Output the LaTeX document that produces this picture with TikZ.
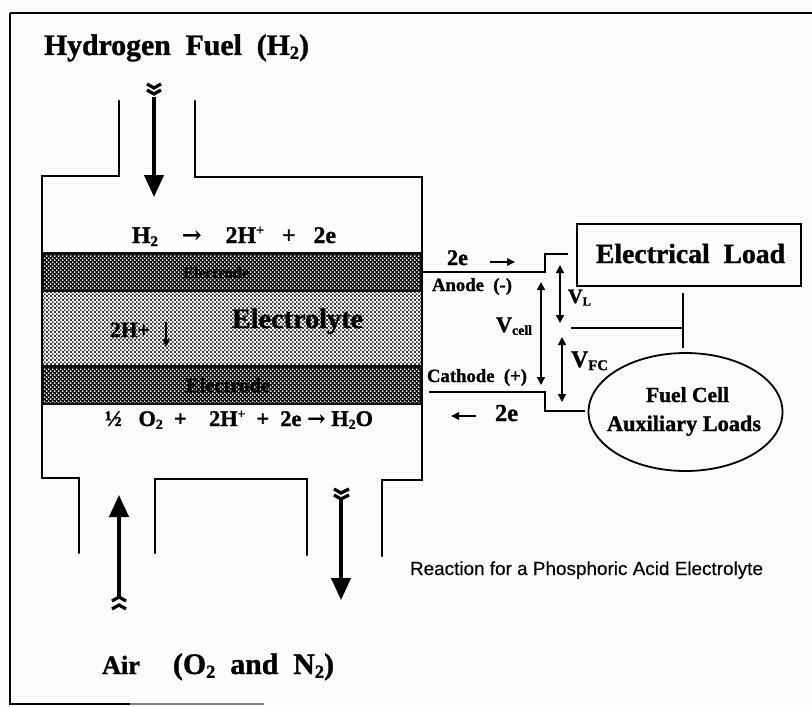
\documentclass[tikz,border=0pt]{standalone}
\usepackage{fontspec}
\setmainfont{Liberation Serif}[BoldFeatures={FakeBold=1.2}]
\newfontfamily\arialf{Liberation Sans}[FakeBold=0.3]
\newfontfamily\dejaarrow{DejaVu Serif Bold}
\usetikzlibrary{arrows.meta,patterns,shapes.geometric}
\newdimen\pxu \pxu=0.75pt
\pgfdeclarepatternformonly{chk}{\pgfpointorigin}{\pgfqpoint{3.2pt}{3.2pt}}{\pgfqpoint{3.2pt}{3.2pt}}{%
  \pgfpathrectangle{\pgfqpoint{0pt}{0pt}}{\pgfqpoint{1.6pt}{1.6pt}}%
  \pgfpathrectangle{\pgfqpoint{1.6pt}{1.6pt}}{\pgfqpoint{1.6pt}{1.6pt}}%
  \pgfusepath{fill}}
\pgfdeclarepatternformonly{dotsw}{\pgfpointorigin}{\pgfqpoint{3.2pt}{3.2pt}}{\pgfqpoint{3.2pt}{3.2pt}}{%
  \pgfpathrectangle{\pgfqpoint{0.2pt}{0.2pt}}{\pgfqpoint{1.1pt}{1.1pt}}%
  \pgfpathrectangle{\pgfqpoint{1.8pt}{1.8pt}}{\pgfqpoint{1.1pt}{1.1pt}}%
  \pgfusepath{fill}}
\newcommand\lo[1]{\raisebox{-0.28ex}{\scalebox{0.62}{#1}}}
\newcommand\hi[1]{\raisebox{0.75ex}{\scalebox{0.6}{#1}}}
\newcommand\arr{{\dejaarrow →}}
\tikzset{
  wall/.style={line width=1.6pt,draw=black,line cap=round,line join=miter},
  wire/.style={line width=1.2pt,draw=black},
  flow/.style={line width=2.4pt,draw=black,-{Triangle[length=16.5pt,width=14.5pt]}},
  volt/.style={line width=1.1pt,draw=black,{Triangle[length=6pt,width=6pt]}-{Triangle[length=6pt,width=6pt]}},
  tinyarrow/.style={line width=1.2pt,draw=black,-{Triangle[length=6pt,width=5.5pt]}},
  chev/.style={line width=2.4pt,draw=black,line join=miter},
  lbl/.style={inner sep=0pt,outer sep=0pt,anchor=base west,font=\bfseries\fontsize{14}{16}\selectfont},
  captiontext/.style={inner sep=0pt,outer sep=0pt,anchor=base west,font=\arialf\fontsize{12}{14}\selectfont}
}
\newcommand\lbltxt[5]{\node[lbl] (#1) at (#2,#3) {\resizebox{#4\pxu}{!}{#5}};}
\begin{document}
\begin{tikzpicture}[x=0.75pt,y=-0.75pt]
\useasboundingbox (0,0) rectangle (812,706);
\fill[white!99!black] (0,0) rectangle (812,706);
% page frame
\draw[line width=1.6pt] (10,13) -- (812,13);
\draw[line width=1.6pt] (10,13) -- (10,704) -- (130,704);
\draw[line width=1pt,gray] (130,704) -- (264,704);
% cell layers
\fill[black!94] (42,252) rectangle (422,292);
\fill[white] (42,292) rectangle (422,365);
\fill[pattern=chk,pattern color=black!78] (42,292) rectangle (422,365);
\fill[black!94] (42,365) rectangle (422,405);
\fill[pattern=dotsw,pattern color=white] (44,255) rectangle (420,289);
\fill[pattern=dotsw,pattern color=white] (44,368) rectangle (420,402);
% housing
\draw[wall] (119,101) -- (119,176) -- (42,176) -- (42,478) -- (79,478) -- (79,553);
\draw[wall] (195,101) -- (195,177) -- (422,177) -- (422,480) -- (382,480) -- (382,556);
\draw[wall] (155,553) -- (155,479) -- (307,479) -- (307,555);
% flow arrows
\coordinate (h2s) at (154,97); \coordinate (h2e) at (154,197);
\coordinate (airs) at (119,596); \coordinate (aire) at (119,495);
\coordinate (exs) at (341,499); \coordinate (exe) at (341,600);
\draw[flow] (h2s) -- (h2e);
\draw[flow] (airs) -- (aire);
\draw[flow] (exs) -- (exe);
\draw[chev] (147,84) -- (154,88) -- (161,84);
\draw[chev] (147,90) -- (154,94) -- (161,90);
\draw[chev] (112,601) -- (119,597) -- (126,601);
\draw[chev] (112,609) -- (119,605) -- (126,609);
\draw[chev] (334,489) -- (341,493) -- (349,489);
\draw[chev] (334,495) -- (341,499) -- (349,495);
% load nodes
\node[draw=black,line width=1.8pt,minimum width=168pt,minimum height=46.5pt,inner sep=0pt] (load) at (689,255) {};
\node[draw=black,line width=1.35pt,ellipse,minimum width=145.5pt,minimum height=88.5pt,inner sep=0pt] (aux) at (685.5,412) {};
% wiring
\coordinate (at) at (422,272); \coordinate (ab) at (545,272); \coordinate (au) at (545,254); \coordinate (ae) at (568,254);
\coordinate (ct) at (429,392); \coordinate (cb) at (545,392); \coordinate (cd) at (545,411); \coordinate (ce) at (585,411);
\draw[wire] (at) -- (ab) -- (au) -- (ae);
\draw[wire] (ct) -- (cb) -- (cd) -- (ce);
\coordinate (tt) at (683,293); \coordinate (tb) at (683,348); \coordinate (tm) at (683,328); \coordinate (tl) at (571,328);
\draw[wire] (tt) -- (tb);
\draw[wire] (tl) -- (tm);
% voltage arrows
\coordinate (vl1) at (560,265); \coordinate (vl2) at (560,323);
\coordinate (vc1) at (541,282); \coordinate (vc2) at (541,385);
\coordinate (vf1) at (562,337); \coordinate (vf2) at (562,402);
\draw[volt] (vl1) -- (vl2);
\draw[volt] (vc1) -- (vc2);
\draw[volt] (vf1) -- (vf2);
\coordinate (e1s) at (490,262); \coordinate (e1e) at (515,262);
\coordinate (e2s) at (476,416); \coordinate (e2e) at (451,416);
\coordinate (p1s) at (166,322); \coordinate (p1e) at (166,347);
\draw[tinyarrow] (e1s) -- (e1e);
\draw[tinyarrow] (e2s) -- (e2e);
\draw[tinyarrow] (p1s) -- (p1e);
% labels
\lbltxt{hyd}{44}{55}{265}{Hydrogen\ \ Fuel\ \ (H\lo{2})}
\lbltxt{rtop}{132}{243}{204}{H\lo{2}\ \ \ \ \arr\ \ \ \ 2H\hi{+}\ \ \ +\ \ \ 2e}
\lbltxt{elt}{183}{278}{66}{Electrode}
\lbltxt{elb}{186}{392}{84}{Electrode}
\lbltxt{ely}{232}{328}{131}{Electrolyte}
\lbltxt{hp}{110}{337}{40}{2H+}
\lbltxt{rbot}{105}{426}{268}{½\ \ \ O\lo{2}\ \ +\ \ \ \ 2H\hi{+}\ \ +\ \ 2e\ \arr\ H\lo{2}O}
\lbltxt{ea}{447}{265}{21}{2e}
\lbltxt{eb}{495}{421}{23}{2e}
\lbltxt{an}{432}{291}{80}{Anode\ \ (-)}
\lbltxt{ca}{427}{382}{100}{Cathode\ \ (+)}
\lbltxt{vc}{496}{332}{36}{V\lo{cell}}
\lbltxt{vl}{568}{303}{23}{V\lo{L}}
\lbltxt{vf}{571}{367}{37}{V\lo{FC}}
\lbltxt{lt}{596}{263}{189}{Electrical\ \ Load}
\lbltxt{fc}{646}{402}{83}{Fuel Cell}
\lbltxt{al}{607}{431}{154}{Auxiliary Loads}
\lbltxt{air}{102}{674}{38}{Air}
\lbltxt{oxy}{173}{674}{161}{(O\lo{2}\ \ and\ \ N\lo{2})}
\node[captiontext] (rx) at (410,575) {\resizebox{353\pxu}{!}{Reaction for a Phosphoric Acid Electrolyte}};
\end{tikzpicture}
\end{document}
